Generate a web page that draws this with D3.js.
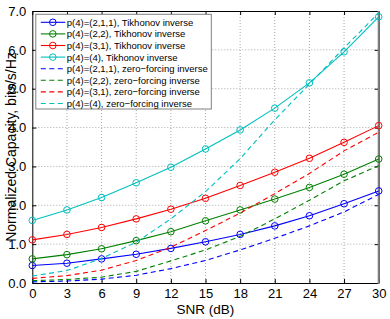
<!DOCTYPE html>
<html lang="en">
<head>
<meta charset="UTF-8">
<title>Normalized capacity vs SNR</title>
<script src="https://d3js.org/d3.v7.min.js"></script>
<style>
  body { margin: 0; background: white; }
  svg { display: block; font-family: "Liberation Sans", Arial, sans-serif; }
</style>
</head>
<body>
<div id="chart"></div>
<script>
// data
var snr = [0, 3, 6, 9, 12, 15, 18, 21, 24, 27, 30];
var tik211 = [0.45, 0.51, 0.62, 0.74, 0.89, 1.06, 1.25, 1.47, 1.73, 2.04, 2.37];
var tik22  = [0.62, 0.73, 0.88, 1.09, 1.32, 1.60, 1.88, 2.16, 2.46, 2.80, 3.19];
var tik31  = [1.11, 1.25, 1.43, 1.65, 1.90, 2.18, 2.51, 2.85, 3.21, 3.62, 4.05];
var tik4   = [1.61, 1.88, 2.20, 2.58, 2.98, 3.45, 3.94, 4.50, 5.15, 5.95, 6.85];
var zf211  = [0.03, 0.05, 0.10, 0.20, 0.37, 0.58, 0.85, 1.15, 1.47, 1.83, 2.28];
var zf22   = [0.06, 0.09, 0.15, 0.30, 0.57, 0.85, 1.20, 1.65, 2.13, 2.63, 3.02];
var zf31   = [0.12, 0.19, 0.33, 0.58, 0.92, 1.35, 1.80, 2.30, 2.82, 3.40, 3.88];
var zf4    = [0.18, 0.32, 0.63, 1.05, 1.65, 2.35, 3.20, 4.20, 5.12, 6.05, 6.95];
var labels = ["p(4)=(2,1,1), Tikhonov inverse", "p(4)=(2,2), Tikhonov inverse",
              "p(4)=(3,1), Tikhonov inverse", "p(4)=(4), Tikhonov inverse",
              "p(4)=(2,1,1), zero\u2212forcing inverse", "p(4)=(2,2), zero\u2212forcing inverse",
              "p(4)=(3,1), zero\u2212forcing inverse", "p(4)=(4), zero\u2212forcing inverse"];
var colors = ["#0000ff", "#008000", "#ff0000", "#00bfbf"];
var xTicks = [0, 3, 6, 9, 12, 15, 18, 21, 24, 27, 30];
var yTicks = [0, 1, 2, 3, 4, 5, 6, 7];

var series = [tik211, tik22, tik31, tik4, zf211, zf22, zf31, zf4].map(function(v, i) {
  return { name: labels[i], color: colors[i % 4], dashed: i >= 4,
           pts: v.map(function(y, j) { return { x: snr[j], y: y }; }) };
});

var W = 390, H = 319;
var margin = { top: 11, right: 11.3, bottom: 36, left: 32.3 };
var width = W - margin.left - margin.right,
    height = H - margin.top - margin.bottom;

var svg = d3.select("#chart").append("svg")
  .attr("width", W).attr("height", H);
var g = svg.append("g")
  .attr("transform", "translate(" + margin.left + "," + margin.top + ")");

var x = d3.scaleLinear().domain([0, 30]).range([0, width]);
var y = d3.scaleLinear().domain([0, 7]).range([height, 0]);

// dotted grid
g.append("g").selectAll("line").data(xTicks.slice(1, -1)).join("line")
  .attr("x1", function(d) { return x(d); }).attr("x2", function(d) { return x(d); })
  .attr("y1", 0).attr("y2", height)
  .attr("stroke", "#a8a8a8").attr("stroke-width", 1).attr("stroke-dasharray", "1,2");
g.append("g").selectAll("line").data(yTicks.slice(1, -1)).join("line")
  .attr("y1", function(d) { return y(d); }).attr("y2", function(d) { return y(d); })
  .attr("x1", 0).attr("x2", width)
  .attr("stroke", "#a8a8a8").attr("stroke-width", 1).attr("stroke-dasharray", "1,2");

// axes, ticks inside
g.append("g").attr("transform", "translate(0," + height + ")")
  .call(d3.axisBottom(x).tickValues(xTicks).tickSizeInner(-4).tickSizeOuter(0).tickPadding(6));
g.append("g")
  .call(d3.axisLeft(y).tickValues(yTicks).tickSizeInner(-4).tickSizeOuter(0).tickPadding(6));
g.append("g")
  .call(d3.axisTop(x).tickValues(xTicks).tickSizeInner(-4).tickSizeOuter(0).tickFormat(""));
g.append("g").attr("transform", "translate(" + width + ",0)")
  .call(d3.axisRight(y).tickValues(yTicks).tickSizeInner(-4).tickSizeOuter(0).tickFormat(""));
g.selectAll(".domain").attr("stroke", "#000");
g.selectAll(".tick line").attr("stroke", "#000");
g.selectAll(".tick text").attr("font-size", 13).attr("fill", "#000")
  .attr("font-family", "Liberation Sans, Arial, sans-serif");

// thick grey right edge
g.append("line").attr("x1", width).attr("x2", width).attr("y1", 0).attr("y2", height + 1)
  .attr("stroke", "#808080").attr("stroke-width", 2);

// lines
var line = d3.line().x(function(d) { return x(d.x); }).y(function(d) { return y(d.y); });
series.forEach(function(s) {
  g.append("path").datum(s.pts)
    .attr("d", line).attr("fill", "none")
    .attr("stroke", s.color).attr("stroke-width", 1.1)
    .attr("stroke-dasharray", s.dashed ? "5,3.5" : null);
  if (!s.dashed) {
    g.append("g").selectAll("circle").data(s.pts).join("circle")
      .attr("cx", function(d) { return x(d.x); })
      .attr("cy", function(d) { return y(d.y); })
      .attr("r", 3.3).attr("fill", "none")
      .attr("stroke", s.color).attr("stroke-width", 1);
  }
});

// legend
var leg = g.append("g").attr("transform", "translate(3.5,3.3)");
leg.append("rect").attr("width", 175.5).attr("height", 94.7)
  .attr("fill", "white").attr("stroke", "#808080").attr("stroke-width", 1);
var rows = leg.selectAll("g.row").data(series).join("g").attr("class", "row")
  .attr("transform", function(d, i) { return "translate(0," + (8 + i * 11.6) + ")"; });
rows.append("line").attr("x1", 5).attr("x2", 29.5).attr("y1", 0).attr("y2", 0)
  .attr("stroke", function(d) { return d.color; }).attr("stroke-width", 1.1)
  .attr("stroke-dasharray", function(d) { return d.dashed ? "5,3.5" : null; });
rows.filter(function(d) { return !d.dashed; }).append("circle")
  .attr("cx", 17).attr("cy", 0).attr("r", 3.3).attr("fill", "none")
  .attr("stroke", function(d) { return d.color; });
rows.append("text").attr("x", 31).attr("y", 3.5)
  .attr("font-size", 9.5).attr("fill", "#000")
  .text(function(d) { return d.name; });

// axis titles
svg.append("text").attr("x", margin.left + width / 2).attr("y", 313.5)
  .attr("text-anchor", "middle").attr("font-size", 13.5).text("SNR (dB)");
svg.append("text")
  .attr("transform", "translate(16," + (margin.top + height / 2) + ") rotate(-90)")
  .attr("text-anchor", "middle").attr("font-size", 14).text("Normalized Capacity, bits/s/Hz");
</script>
</body>
</html>
